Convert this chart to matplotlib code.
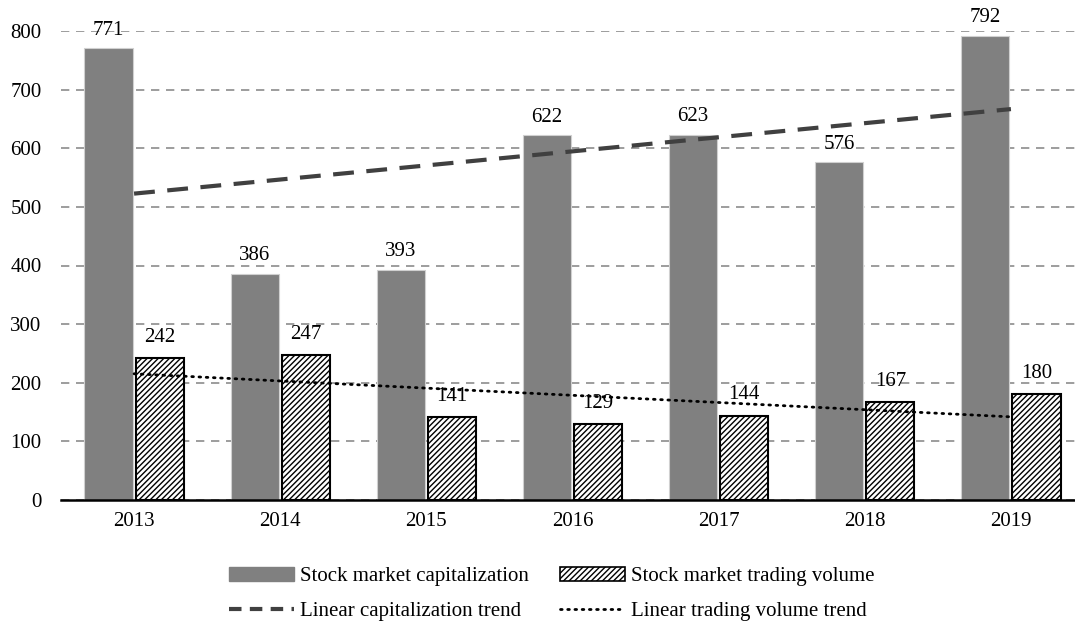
import numpy as np
import matplotlib
matplotlib.use("Agg")
import matplotlib.pyplot as plt
from matplotlib.patches import Patch
from matplotlib.lines import Line2D

plt.rcParams['font.family'] = ['Liberation Serif', 'DejaVu Serif']
plt.rcParams['hatch.linewidth'] = 1.0

years = ['2013', '2014', '2015', '2016', '2017', '2018', '2019']
capitalization = [771, 386, 393, 622, 623, 576, 792]
trading_volume = [242, 247, 141, 129, 144, 167, 180]
y_ticks = [0, 100, 200, 300, 400, 500, 600, 700, 800]

FS = 15
W, H = 1075, 628
fig = plt.figure(figsize=(W / 100, H / 100), dpi=100)
ax = fig.add_axes([61 / W, 1 - 500 / H, (1084 - 61) / W, 469 / H])

x = np.arange(len(years))
bw = 0.33
off = 0.175

ax.bar(x - off, capitalization, bw, color='#808080', edgecolor='#d0d0d0',
       linewidth=0.8, zorder=3)
ax.bar(x + off, trading_volume, bw, color='white', edgecolor='black',
       hatch='//////', linewidth=1.5, zorder=3)

for xi, v in zip(x - off, capitalization):
    ax.annotate(str(v), (xi, v), xytext=(0, 6), textcoords='offset points',
                ha='center', va='bottom', fontsize=FS, zorder=5)
for xi, v in zip(x + off, trading_volume):
    ax.annotate(str(v), (xi, v), xytext=(0, 8), textcoords='offset points',
                ha='center', va='bottom', fontsize=FS, zorder=5)

c_fit = np.polyfit(x, capitalization, 1)
v_fit = np.polyfit(x, trading_volume, 1)
ax.plot(x, np.polyval(c_fit, x), color='#404040', lw=3, dashes=(5, 3), zorder=4)
ax.plot(x, np.polyval(v_fit, x), color='black', lw=2, dashes=(0.6, 2.0),
        dash_capstyle='round', zorder=4)

ax.set_xlim(-0.5, len(years) - 0.5)
ax.set_ylim(0, 800)
ax.set_yticks(y_ticks)
ax.set_xticks(x)
ax.set_xticklabels(years)
ax.tick_params(axis='both', length=0, labelsize=FS)
ax.tick_params(axis='x', pad=9)
ax.tick_params(axis='y', pad=14)
ax.yaxis.grid(True, color='#8c8c8c', linestyle=(0, (5, 4)), linewidth=1.2, zorder=0)
ax.set_axisbelow(True)
for s in ['top', 'right', 'left']:
    ax.spines[s].set_visible(False)
ax.spines['bottom'].set_linewidth(1.8)
ax.spines['bottom'].set_zorder(6)

handles = [
    Patch(facecolor='#808080', edgecolor='#808080'),
    Line2D([0], [0], color='#404040', lw=3, dashes=(3, 2)),
    Patch(facecolor='white', edgecolor='black', hatch='//////', lw=1.2),
    Line2D([0], [0], color='black', lw=2, dashes=(0.6, 2.0), dash_capstyle='round'),
]
labels = ['Stock market capitalization', 'Linear capitalization trend',
          'Stock market trading volume', 'Linear trading volume trend']
fig.legend(handles, labels, ncol=2, loc='center', bbox_to_anchor=(552 / W, 1 - 594 / H),
           frameon=False, fontsize=FS, handlelength=3.1, handleheight=0.7,
           handletextpad=0.3, columnspacing=1.5, labelspacing=0.75)

fig.savefig('out.png', dpi=100)
